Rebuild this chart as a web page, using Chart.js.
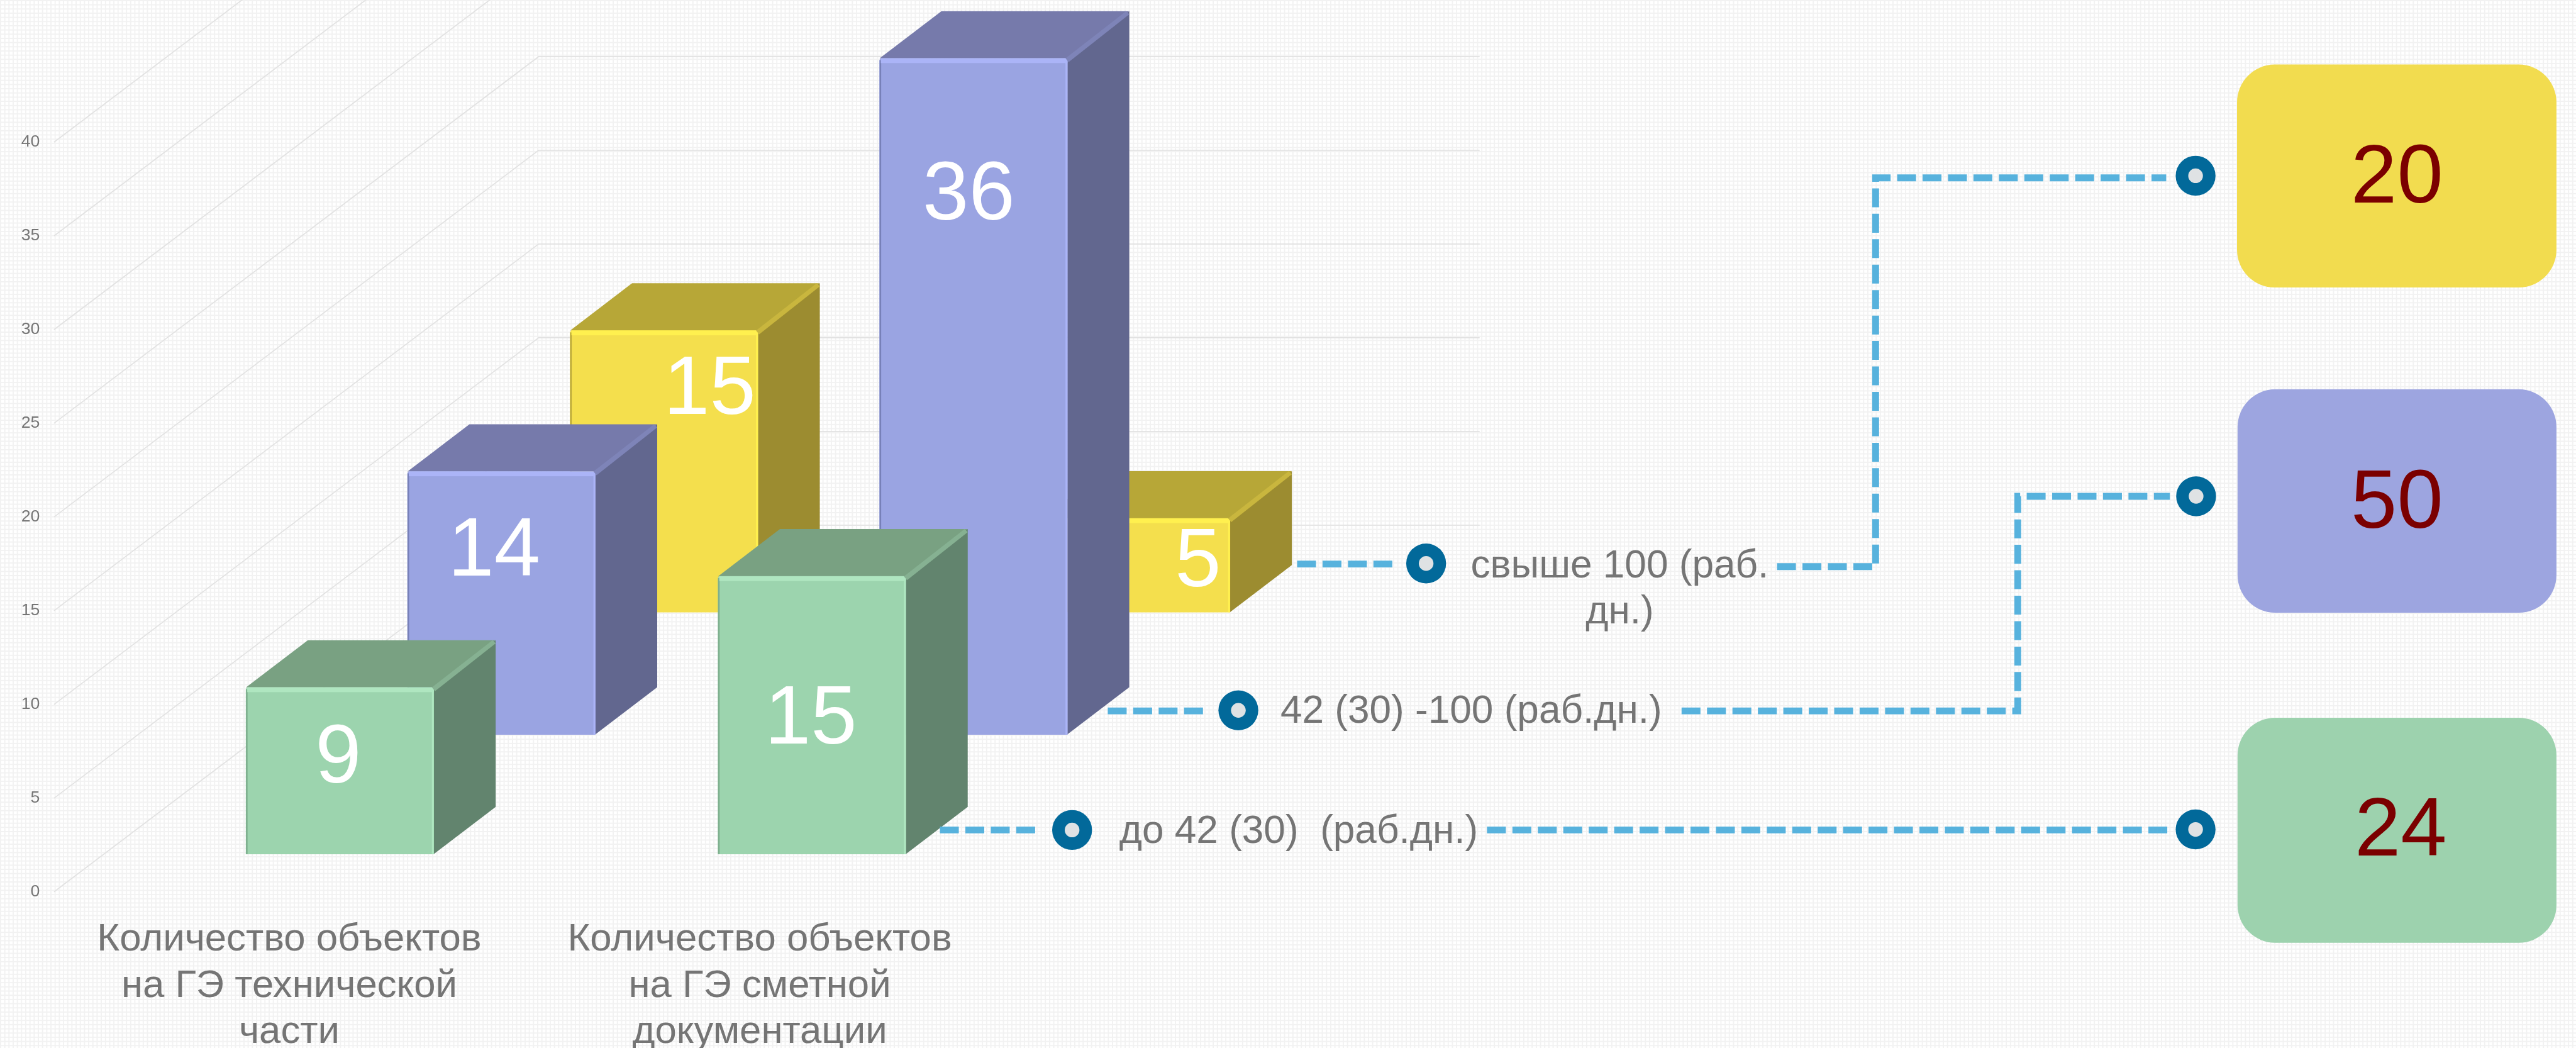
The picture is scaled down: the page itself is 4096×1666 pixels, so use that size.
<!DOCTYPE html>
<html><head><meta charset="utf-8">
<script src="https://cdn.jsdelivr.net/npm/chart.js@4"></script>
<style>
html,body{margin:0;padding:0;width:4096px;height:1666px;overflow:hidden;background-color:#fff;
background-image:linear-gradient(#f2f2f2 1.7px,transparent 1.7px),linear-gradient(90deg,#f2f2f2 1.7px,transparent 1.7px);
background-size:6.672px 6.672px;}
canvas{display:block}
</style></head><body>
<canvas id="c" width="4096" height="1666"></canvas>
<script>
const categories = [["Количество объектов","на ГЭ технической","части"],["Количество объектов","на ГЭ сметной","документации"]];
const greenValues = [9, 15];
const blueValues = [14, 36];
const yellowValues = [15, 5];
const yTicks = [0,5,10,15,20,25,30,35,40];
const totals = ["20","50","24"];
const rangeLabels = [["свыше 100 (раб.","дн.)"],["42 (30) -100 (раб.дн.)"],["до 42 (30)  (раб.дн.)"]];

// layout, in reference pixels
const S = 0.834;
const L = 103, R = 1897, T = 271, B = 1700;
const depthWall = {dx:924, dy:699};
const depthBar = {dx:118, dy:90};
const pitch = 900;
const geom = {
  G:{c:648, base:1628, unit:35.3, front:'#9CD4AE', top:'#79A182', side:'#62846E', hi:'#AFE6C0', edge:'#7DAE8D', diag:'#86B192'},
  B:{c:956, base:1400, unit:35.8, front:'#9AA4E2', top:'#767AAB', side:'#62678F', hi:'#ABB4F7', edge:'#7780B8', diag:'#7E84B8'},
  Y:{c:1266,base:1167, unit:35.8, front:'#F4DF4D', top:'#B7A737', side:'#9C8C30', hi:'#FFF04F', edge:'#BBA93A', diag:'#C9B63E'}
};
const labelOffsets = {G:[[-3,138],[-2,275]], B:[[-14,155],[-9,264]], Y:[[87,116],[118,86]]};
const boxes = [
 {x:4265,y:123,w:609,h:425,fill:'#F2DC4F',ty:342},
 {x:4266,y:742,w:608,h:426,fill:'#9DA5E0',ty:962},
 {x:4266,y:1368,w:608,h:429,fill:'#9DD2AE',ty:1587}
];
const boxTextX = [4570,4570,4577];
const dots = [[2719,1074],[4186,335],[2361,1354],[4187,946],[2044,1582],[4186,1581]];
const dashes = [
 [[2473,1075],[2655,1075]],
 [[3388,1080],[3576,1080],[3576,339],[4130,339]],
 [[2112,1355],[2295,1355]],
 [[3206,1355],[3847,1355],[3847,946],[4137,946]],
 [[1792,1582],[1975,1582]],
 [[2835,1582],[4133,1582]]
];
const rangeText = [
 {x:3088,y:[1080,1168]},
 {x:2805,y:[1357]},
 {x:2476,y:[1586]}
];
const FONT = '"Liberation Sans", Arial, sans-serif';
const px = v => v*S;

const mkX = g => ({type:'linear',display:false,offset:false,bounds:'data',min:(L-g.c)/pitch,max:(R-g.c)/pitch,grid:{display:false}});
const mkY = g => ({type:'linear',display:false,bounds:'data',min:(g.base-B)/g.unit,max:(g.base-T)/g.unit,grid:{display:false}});
const toPts = arr => arr.map((v,i)=>({x:i,y:v}));
const mkSet = (key,vals,order) => ({
  label:key,geomKey:key,data:toPts(vals),order,xAxisID:'x'+key,yAxisID:'y'+key,clip:false,grouped:false,
  backgroundColor:geom[key].front,borderWidth:0,barThickness:px(358),
  borderRadius:{topLeft:px(5),topRight:px(5),bottomLeft:0,bottomRight:0},borderSkipped:false
});
function poly(ctx,pts,fill){ctx.fillStyle=fill;ctx.beginPath();pts.forEach((p,i)=>i?ctx.lineTo(p[0],p[1]):ctx.moveTo(p[0],p[1]));ctx.closePath();ctx.fill();}

const wallPlugin = {
  id:'wall',
  beforeDatasetsDraw(chart){
    const {ctx,chartArea:a} = chart, y = chart.scales.y;
    const dx = px(depthWall.dx), dy = px(depthWall.dy);
    ctx.save();
    ctx.lineWidth = 1.7; ctx.strokeStyle = '#e2e2e2';
    y.ticks.forEach(t=>{
      const p = y.getPixelForValue(t.value);
      ctx.beginPath();ctx.moveTo(a.left,p);ctx.lineTo(a.left+dx,p-dy);
      if(p-dy>0)ctx.lineTo(a.right+dx,p-dy);
      ctx.stroke();
    });
    ctx.restore();
  },
  beforeDatasetDraw(chart,args){
    const {ctx} = chart, meta = chart.getDatasetMeta(args.index), g = geom[chart.data.datasets[args.index].geomKey];
    const dx = px(depthBar.dx), dy = px(depthBar.dy);
    ctx.save();
    meta.data.forEach(el=>{
      const l = el.x-el.width/2, r = el.x+el.width/2;
      poly(ctx,[[l,el.y],[r,el.y],[r+dx,el.y-dy],[l+dx,el.y-dy]],g.top);
      poly(ctx,[[r,el.y],[r+dx,el.y-dy],[r+dx,el.base-dy],[r,el.base]],g.side);
    });
    ctx.restore();
  },
  afterDatasetDraw(chart,args){
    const {ctx} = chart, ds = chart.data.datasets[args.index], meta = chart.getDatasetMeta(args.index), g = geom[ds.geomKey];
    const dx = px(depthBar.dx), dy = px(depthBar.dy);
    ctx.save();
    meta.data.forEach((el,i)=>{
      const l = el.x-el.width/2, r = el.x+el.width/2;
      // bevel
      ctx.fillStyle = g.edge; ctx.fillRect(l,el.y+3,2.5,el.base-el.y-3);
      ctx.fillStyle = g.hi; ctx.fillRect(l+2,el.y,el.width-2,px(9));
      ctx.fillRect(r-3,el.y,3,el.base-el.y);
      poly(ctx,[[r-3,el.y],[r+dx-5,el.y-dy],[r+dx,el.y-dy+5],[r+2,el.y+6]],g.diag);
      // value
      const off = labelOffsets[ds.geomKey][i];
      ctx.font = px(158)+'px '+FONT; ctx.fillStyle = '#fff'; ctx.textAlign='center'; ctx.textBaseline='middle';
      ctx.fillText(String(ds.data[i].y), el.x+px(off[0]), el.y+px(off[1]));
    });
    ctx.restore();
  },
  afterDatasetsDraw(chart){
    const {ctx} = chart;
    ctx.save();
    // connectors
    ctx.strokeStyle='#57B2DD'; ctx.lineWidth=px(13); ctx.setLineDash([px(36),px(12.5)]); ctx.lineCap='butt'; ctx.lineJoin='miter';
    dashes.forEach(seg=>{ctx.beginPath();seg.forEach((p,i)=>i?ctx.lineTo(px(p[0]),px(p[1])):ctx.moveTo(px(p[0]),px(p[1])));ctx.stroke();});
    ctx.setLineDash([]);
    // dots
    dots.forEach(d=>{
      ctx.fillStyle='#02699A';ctx.beginPath();ctx.arc(px(d[0]),px(d[1]),px(38),0,Math.PI*2);ctx.fill();
      ctx.fillStyle='#DFE2E4';ctx.beginPath();ctx.arc(px(d[0]),px(d[1]),px(14),0,Math.PI*2);ctx.fill();
    });
    // range labels
    ctx.fillStyle='#757575';ctx.textAlign='center';ctx.textBaseline='middle';ctx.font=px(74.5)+'px '+FONT;
    rangeLabels.forEach((lines,i)=>lines.forEach((s,j)=>ctx.fillText(s,px(rangeText[i].x),px(rangeText[i].y[j]))));
    // total boxes
    boxes.forEach((b,i)=>{
      ctx.fillStyle=b.fill;ctx.beginPath();ctx.roundRect(px(b.x),px(b.y),px(b.w),px(b.h),px(72));ctx.fill();
      ctx.fillStyle='#7B0000';ctx.font=px(158)+'px '+FONT;
      ctx.fillText(totals[i],px(boxTextX[i]),px(b.ty));
    });
    ctx.restore();
  }
};

new Chart(document.getElementById('c'),{
  type:'bar',
  data:{labels:categories,datasets:[mkSet('G',greenValues,1),mkSet('B',blueValues,2),mkSet('Y',yellowValues,3)]},
  plugins:[wallPlugin],
  options:{
    responsive:false,animation:false,devicePixelRatio:1,events:[],
    layout:{padding:{top:px(T),bottom:0,left:0,right:4096-px(R)}},
    plugins:{legend:{display:false},tooltip:{enabled:false},title:{display:false}},
    scales:{
      x:{type:'category',offset:true,grid:{display:false},border:{display:false},
        afterFit(s){s.height=1666-px(B);},
        ticks:{autoSkip:false,maxRotation:0,minRotation:0,padding:px(38),color:'#757575',font:{family:FONT,size:px(74),lineHeight:88/74}}},
      y:{type:'linear',position:'left',min:0,max:40,grid:{display:false,drawTicks:false},border:{display:false},
        afterFit(s){s.width=px(L);},
        afterBuildTicks(s){s.ticks=yTicks.map(v=>({value:v}));},
        ticks:{padding:px(L-76),color:'#757575',font:{family:FONT,size:px(32)},stepSize:5}},
      xG:mkX(geom.G),yG:mkY(geom.G),
      xB:mkX(geom.B),yB:mkY(geom.B),
      xY:mkX(geom.Y),yY:mkY(geom.Y)
    }
  }
});
</script>
</body></html>
